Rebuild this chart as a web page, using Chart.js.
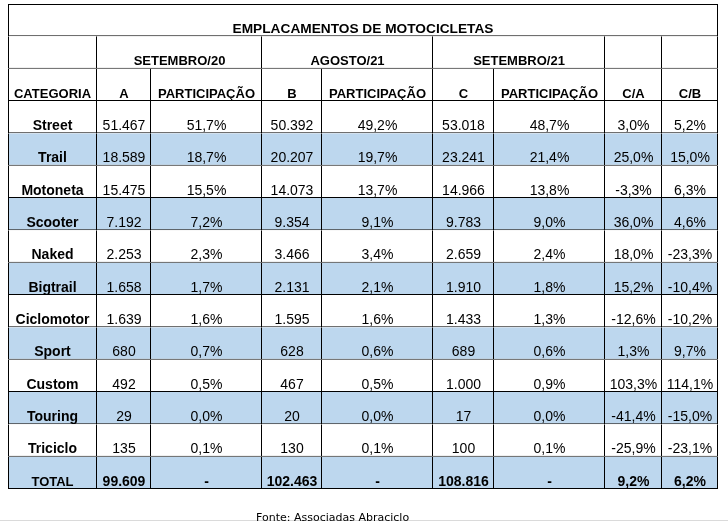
<!DOCTYPE html>
<html>
<head>
<meta charset="utf-8">
<script src="https://cdn.jsdelivr.net/npm/chart.js@4/dist/chart.umd.min.js"></script>
<style>
  html, body { margin: 0; padding: 0; background: #fff; }
  canvas { display: block; }
</style>
</head>
<body>
<canvas id="table" width="728" height="524"></canvas>
<script>
// data
const title = 'EMPLACAMENTOS DE MOTOCICLETAS';
const periods = ['SETEMBRO/20', 'AGOSTO/21', 'SETEMBRO/21'];
const headers = ['CATEGORIA', 'A', 'PARTICIPAÇÃO', 'B', 'PARTICIPAÇÃO', 'C', 'PARTICIPAÇÃO', 'C/A', 'C/B'];
const categories = ['Street', 'Trail', 'Motoneta', 'Scooter', 'Naked', 'Bigtrail', 'Ciclomotor', 'Sport', 'Custom', 'Touring', 'Triciclo'];
const set20 = [51467, 18589, 15475, 7192, 2253, 1658, 1639, 680, 492, 29, 135];
const share20 = [51.7, 18.7, 15.5, 7.2, 2.3, 1.7, 1.6, 0.7, 0.5, 0.0, 0.1];
const ago21 = [50392, 20207, 14073, 9354, 3466, 2131, 1595, 628, 467, 20, 130];
const shareAgo21 = [49.2, 19.7, 13.7, 9.1, 3.4, 2.1, 1.6, 0.6, 0.5, 0.0, 0.1];
const set21 = [53018, 23241, 14966, 9783, 2659, 1910, 1433, 689, 1000, 17, 100];
const share21 = [48.7, 21.4, 13.8, 9.0, 2.4, 1.8, 1.3, 0.6, 0.9, 0.0, 0.1];
const varCA = [3.0, 25.0, -3.3, 36.0, 18.0, 15.2, -12.6, 1.3, 103.3, -41.4, -25.9];
const varCB = [5.2, 15.0, 6.3, 4.6, -23.3, -10.4, -10.2, 9.7, 114.1, -15.0, -23.1];
const totalLabel = 'TOTAL';
const totals = [99609, null, 102463, null, 108816, null, 9.2, 6.2];
const source = 'Fonte: Associadas Abraciclo';

// layout (column edges in px)
const edges = [8, 97, 151, 262, 322, 433, 494, 605, 662, 718];
const shade = '#BDD7EE';

const fmtInt = n => String(n).replace(/\B(?=(\d{3})+(?!\d))/g, '.');
const fmtPct = v => v.toFixed(1).replace('.', ',') + '%';

const rowKeys = ['title', 'period', 'header'].concat(categories, [totalLabel]);

// text for each row / column
function cellText(r, j) {
  if (r === 0) return j === 0 ? title : '';
  if (r === 1) return { 1: periods[0], 3: periods[1], 5: periods[2] }[j] || '';
  if (r === 2) return headers[j];
  const d = r - 3;
  if (d === categories.length) {
    if (j === 0) return totalLabel;
    const t = totals[j - 1];
    if (t === null) return '-';
    return j >= 7 ? fmtPct(t) : fmtInt(t);
  }
  const cols = [categories, set20, share20, ago21, shareAgo21, set21, share21, varCA, varCB];
  const v = cols[j][d];
  if (j === 0) return v;
  return (j % 2 === 1 && j < 7) ? fmtInt(v) : fmtPct(v);
}

function cellFont(r, j) {
  if (r === 0) return 'bold 13.7px "Liberation Sans", Arial, sans-serif';
  if (r <= 2) return 'bold 13px "Liberation Sans", Arial, sans-serif';
  if (r === rowKeys.length - 1) return j === 0 ? 'bold 13px "Liberation Sans", Arial, sans-serif' : 'bold 14px "Liberation Sans", Arial, sans-serif';
  return j === 0 ? 'bold 14px "Liberation Sans", Arial, sans-serif' : '14px "Liberation Sans", Arial, sans-serif';
}

// one dataset per column, floating horizontal bars for cells
const periodSpans = { 0: [0, 1], 1: [1, 3], 3: [3, 5], 5: [5, 7], 7: [7, 8], 8: [8, 9] };
const datasets = headers.map((h, j) => ({
  label: h,
  data: rowKeys.map((k, r) => {
    if (r === 0) return j === 0 ? [edges[0], edges[9]] : null;
    if (r === 1) return periodSpans[j] ? [edges[periodSpans[j][0]], edges[periodSpans[j][1]]] : null;
    return [edges[j], edges[j + 1]];
  }),
  backgroundColor: ctx => {
    const d = ctx.dataIndex - 3;
    return d >= 0 && d % 2 === 1 ? shade : '#ffffff';
  },
  borderColor: '#000000',
  borderWidth: ctx => ({
    top: ctx.dataIndex === 0 ? 1 : 0,
    left: ctx.datasetIndex === 0 ? 1 : 0,
    right: 1,
    bottom: 1
  }),
  borderSkipped: false,
  inflateAmount: 0,
  barPercentage: 1,
  categoryPercentage: 1,
  grouped: false
}));

const cellTextPlugin = {
  id: 'cellText',
  afterDatasetsDraw(chart) {
    const ctx = chart.ctx;
    ctx.save();
    ctx.fillStyle = '#000';
    ctx.textAlign = 'center';
    ctx.textBaseline = 'alphabetic';
    chart.data.datasets.forEach((ds, j) => {
      const meta = chart.getDatasetMeta(j);
      meta.data.forEach((bar, r) => {
        if (ds.data[r] === null) return;
        const txt = cellText(r, j);
        if (!txt) return;
        const cx = (bar.x + bar.base) / 2;
        const by = bar.y + bar.height / 2 - 3.5;
        ctx.font = cellFont(r, j);
        ctx.fillText(txt, cx, by);
      });
    });
    ctx.restore();
  },
  afterDraw(chart) {
    const ctx = chart.ctx;
    ctx.save();
    ctx.fillStyle = '#dadada';
    ctx.fillRect(0, 520, chart.width, 1);
    ctx.fillStyle = '#000';
    ctx.font = '11px "DejaVu Sans", Verdana, sans-serif';
    ctx.textAlign = 'left';
    ctx.fillText(source, 256, 520.5);
    ctx.restore();
  }
};

new Chart(document.getElementById('table').getContext('2d'), {
  type: 'bar',
  data: { labels: rowKeys, datasets: datasets },
  options: {
    indexAxis: 'y',
    responsive: false,
    animation: false,
    layout: { padding: { left: 8, right: 10, top: 4, bottom: 35 } },
    plugins: {
      legend: { display: false },
      title: { display: false },
      tooltip: { enabled: false }
    },
    scales: {
      x: { type: 'linear', min: edges[0], max: edges[9], display: false },
      y: { type: 'category', offset: true, display: false, grid: { display: false } }
    }
  },
  plugins: [cellTextPlugin]
});
</script>
</body>
</html>
